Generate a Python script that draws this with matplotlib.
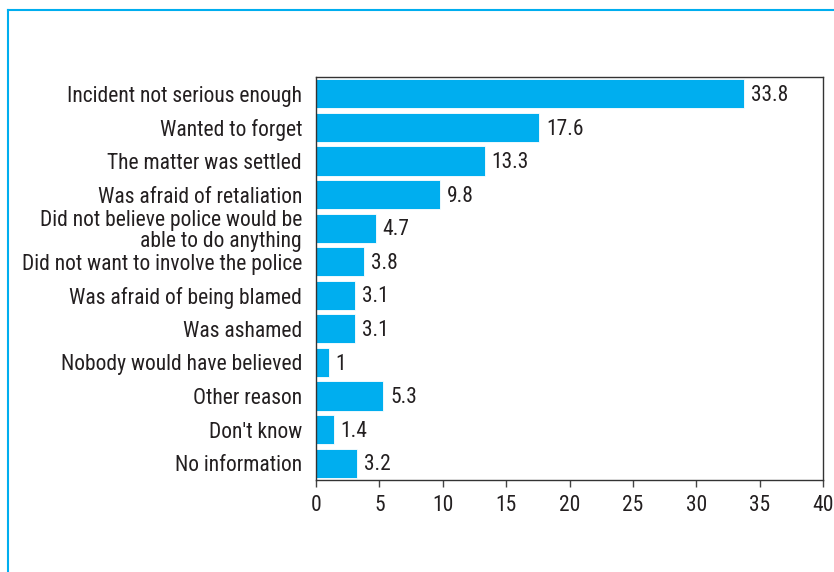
import matplotlib
matplotlib.use("Agg")
import matplotlib.pyplot as plt
from matplotlib.lines import Line2D

plt.rcParams["font.family"] = ["Roboto Condensed", "DejaVu Sans"]

reasons = [
    "Incident not serious enough",
    "Wanted to forget",
    "The matter was settled",
    "Was afraid of retaliation",
    "Did not believe police would be\nable to do anything",
    "Did not want to involve the police",
    "Was afraid of being blamed",
    "Was ashamed",
    "Nobody would have believed",
    "Other reason",
    "Don't know",
    "No information",
]
values = [33.8, 17.6, 13.3, 9.8, 4.7, 3.8, 3.1, 3.1, 1, 5.3, 1.4, 3.2]
value_labels = ["33.8", "17.6", "13.3", "9.8", "4.7", "3.8", "3.1", "3.1", "1", "5.3", "1.4", "3.2"]
xticks = [0, 5, 10, 15, 20, 25, 30, 35, 40]

blue = "#00AEEF"
text_col = "#231F20"
fs = 15.5

fig = plt.figure(figsize=(8.34, 5.72), dpi=100)
ax = fig.add_axes([316 / 834, 92 / 572, 507 / 834, 403 / 572])

pos = list(range(len(reasons)))
ax.barh(pos, values, height=0.87, color=blue, edgecolor="white", linewidth=0.6)
for y, v, lab in zip(pos, values, value_labels):
    ax.text(v + 0.55, y + 0.05, lab, va="center", ha="left", fontsize=fs, color=text_col)

ax.set_ylim(len(reasons) - 0.5, -0.5)
ax.set_xlim(0, 40)
ax.set_yticks(pos)
ax.set_yticklabels(reasons, fontsize=fs, color=text_col, linespacing=1.0)
ax.set_xticks(xticks)
ax.set_xticklabels([str(t) for t in xticks], fontsize=fs, color=text_col)
ax.tick_params(axis="y", length=0, pad=10)
ax.tick_params(axis="x", length=5, width=1, color="#444444", pad=6)
for s in ax.spines.values():
    s.set_color("#333333")
    s.set_linewidth(1)

# light blue frame on the top and left of the figure
fig.add_artist(Line2D([8 / 834, 8 / 834], [0, 1 - 10 / 572], transform=fig.transFigure,
                      color=blue, lw=1.5))
fig.add_artist(Line2D([8 / 834, 1], [1 - 10 / 572, 1 - 10 / 572], transform=fig.transFigure,
                      color=blue, lw=1.5))

fig.savefig("out.png", dpi=100)
